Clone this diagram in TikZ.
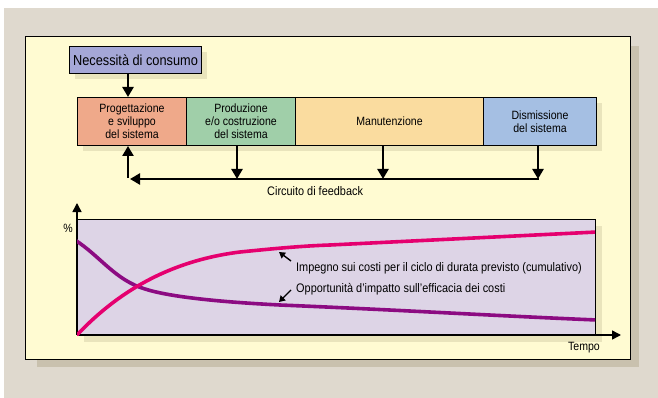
\documentclass[tikz,border=0pt]{standalone}
\usepackage{fontspec}
\setmainfont{Liberation Sans}[FakeStretch=0.88]
\usetikzlibrary{arrows.meta}
\definecolor{bgbeige}{HTML}{DFD9CE}
\definecolor{panelY}{HTML}{FFFBD2}
\definecolor{shadowB}{HTML}{C9C1AE}
\definecolor{shadowY}{HTML}{E9E4BC}
\definecolor{needC}{HTML}{A5A7D7}
\definecolor{s1}{HTML}{EFA98A}
\definecolor{s2}{HTML}{A0CFA9}
\definecolor{s3}{HTML}{FADC9F}
\definecolor{s4}{HTML}{A5BFE3}
\definecolor{plotbg}{HTML}{DDD4E6}
\definecolor{pinkC}{HTML}{E5006F}
\definecolor{purpC}{HTML}{8C0B82}
\tikzset{
  stagebox/.style={draw=black, line width=1pt, anchor=north west, inner sep=0pt, align=center, font=\fontsize{12}{13}\selectfont},
  bigarrow/.style={line width=2.4pt, -{Triangle[width=11pt,length=10pt]}},
  lblarrow/.style={line width=1.4pt, -{Triangle[width=7pt,length=6pt]}},
  lbl/.style={font=\fontsize{12.4}{13}\selectfont, anchor=west, inner sep=0pt},
  curve/.style={line width=3.6pt, line cap=round}
}
\begin{document}
\begin{tikzpicture}[x=1pt,y=-1pt]
\useasboundingbox (0,0) rectangle (658,398);
\fill[white] (0,0) rectangle (658,398);
\fill[bgbeige] (4,8) rectangle (658,398);
% panel shadow and panel
\fill[shadowB] (37,46) rectangle (639,367);
\filldraw[fill=panelY, draw=black, line width=1pt] (25,37) rectangle (630,359);
% need box
\fill[shadowY] (75,52) rectangle (207,79);
\node[draw=black, line width=1pt, fill=needC, minimum width=132pt, minimum height=27pt, inner sep=0pt, anchor=north west, font=\fontsize{14.5}{15}\selectfont] (need) at (69,46) {Necessità di consumo};
% stage shadow
\fill[shadowY] (83,103) rectangle (602,151);
\node[stagebox, fill=s1, minimum width=109pt, minimum height=48pt] (st1) at (77,97) {Progettazione\\e sviluppo\\del sistema};
\node[stagebox, fill=s2, minimum width=109pt, minimum height=48pt] (st2) at (186,97) {Produzione\\e/o costruzione\\del sistema};
\node[stagebox, fill=s3, minimum width=188pt, minimum height=48pt] (st3) at (295,97) {Manutenzione};
\node[stagebox, fill=s4, minimum width=113pt, minimum height=48pt] (st4) at (483,97) {Dismissione\\del sistema};
% arrows
\coordinate (nx) at (128,0);
\draw[bigarrow] (need.south -| nx) -- (st1.north -| nx);
\coordinate (fbL) at (128,179);
\coordinate (fbR) at (538,179);
\coordinate (a2) at (237,179);
\coordinate (a3) at (383,179);
\draw[bigarrow] (st2.south -| a2) -- (a2);
\draw[bigarrow] (st3.south -| a3) -- (a3);
\draw[bigarrow] (st4.south -| fbR) -- (fbR);
\draw[line width=2.4pt, -{Triangle[width=11pt,length=10pt]}] ([xshift=1.2pt]fbR) -- (130,179);
\draw[bigarrow] ([yshift=1.2pt]fbL) -- (st1.south -| fbL);
\node[lbl, anchor=base west] (fbtxt) at (267,196) {Circuito di feedback};
% plot
\fill[shadowY] (84,226) rectangle (602,342);
\filldraw[fill=plotbg, draw=black, line width=1pt] (77,219) rectangle (595,335);
\coordinate (orig) at (77,335);
\draw[line width=1.5pt, -{Triangle[width=9pt,length=9pt]}] (orig) -- (77,203);
\draw[line width=1.5pt, -{Triangle[width=9pt,length=9pt]}] (orig) -- (621,335);
\node[font=\fontsize{12}{13}\selectfont, inner sep=0pt] (pct) at (68,228) {\%};
\node[font=\fontsize{12}{13}\selectfont, inner sep=0pt] (tempo) at (584,348) {Tempo};
\begin{scope}
\clip (77,219) rectangle (595,335);
\draw[curve, purpC] (75,240) .. controls (100,256) and (115,280) .. (145,289) .. controls (170,297) and (220,302) .. (280,305) .. controls (400,310) and (500,316) .. (597,320);
\draw[curve, pinkC] (76,336) .. controls (110,300) and (160,262) .. (240,252) .. controls (270,249) and (300,246) .. (330,245) -- (597,232);
\end{scope}
\node[lbl] (l1) at (296,268) {Impegno sui costi per il ciclo di durata previsto (cumulativo)};
\node[lbl] (l2) at (296,289) {Opportunità d’impatto sull’efficacia dei costi};
\draw[lblarrow] (291,261) -- (279,252);
\draw[lblarrow] (291,290) -- (279,302);
\end{tikzpicture}
\end{document}
